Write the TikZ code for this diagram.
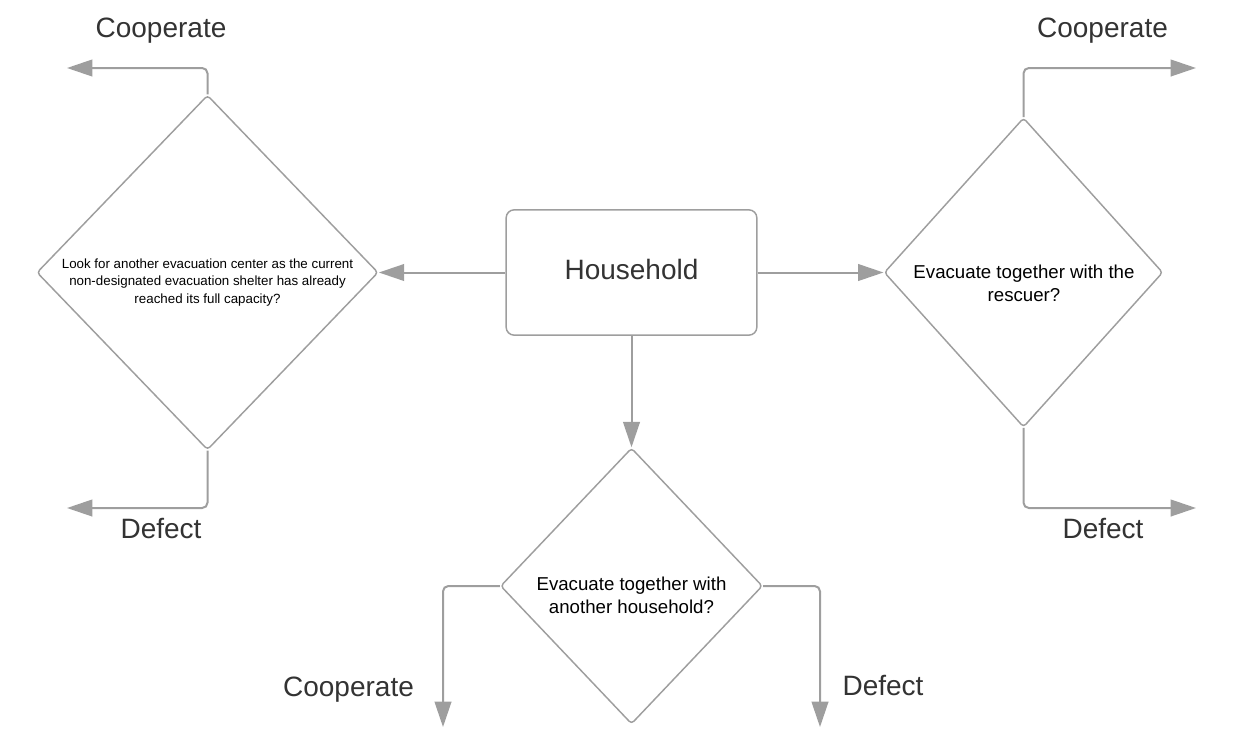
\documentclass[tikz,border=0pt]{standalone}
\usepackage{fontspec}
\setmainfont{Liberation Sans}
\usetikzlibrary{shapes.geometric,arrows.meta,positioning}
\definecolor{linegray}{HTML}{9E9E9E}
\definecolor{textgray}{HTML}{333333}

\begin{document}
\begin{tikzpicture}[x=0.75pt,y=-0.75pt,
    every node/.style={text=textgray},
    flow/.style={draw=linegray, line width=1.5pt, rounded corners=4pt,
      -{Triangle[length=19pt,width=12.5pt,fill=linegray]}},
    decision/.style={diamond, draw=linegray, line width=1.1pt,
      rounded corners=2.5pt, inner sep=0pt},
    actor/.style={rectangle, draw=linegray, line width=1.1pt, rounded corners=6pt,
      minimum width=188pt, minimum height=94pt, text depth=5pt,
      font=\fontsize{21}{25}\selectfont},
    choice/.style={anchor=base, font=\fontsize{21}{25}\selectfont},
    qtext/.style={align=center, inner sep=0pt, text=black, font=\fontsize{14}{17}\selectfont},
    qsmall/.style={align=center, inner sep=0pt, text=black, font=\fontsize{10}{13.1}\selectfont}]
  \useasboundingbox (0,0) rectangle (1242,740);

  % Household in the middle
  \node[actor] (hh) at (631.5,272.5) {Household};

  % Three decisions
  \node[decision, minimum width=256pt, minimum height=266pt] (qleft) at (207.5,272.5) {};
  \node[qsmall] (qlefttext) at (207.5,282.5)
    {Look for another evacuation center as the current\\
     non-designated evacuation shelter has already\\
     reached its full capacity?};

  \node[decision, minimum width=209pt, minimum height=232pt] (qright) at (1023.5,272.5) {};
  \node[qtext] (qrighttext) at (1024,283) {Evacuate together with the\\rescuer?};

  \node[decision, minimum width=196.5pt, minimum height=207pt] (qbot) at (631.5,586) {};
  \node[qtext] (qbottext) at (631.5,595) {Evacuate together with\\another household?};

  % Household to decisions
  \draw[flow] (hh.west) -- (qleft.east);
  \draw[flow] (hh.east) -- (qright.west);
  \draw[flow] (hh.south) -- (qbot.north);

  % Ends of the outcome arrows
  \coordinate (lcoop) at (67,68);
  \coordinate (ldef) at (67,508);
  \coordinate (rcoop) at (1196,68);
  \coordinate (rdef) at (1196,508);
  \coordinate (bcoop) at (443,727);
  \coordinate (bdef) at (820,727);

  % Outcomes
  \draw[flow] (qleft.north) |- (lcoop);
  \draw[flow] (qleft.south) |- (ldef);
  \draw[flow] (qright.north) |- (rcoop);
  \draw[flow] (qright.south) |- (rdef);
  \draw[flow] (qbot.west) -| (bcoop);
  \draw[flow] (qbot.east) -| (bdef);

  \node[choice] (lcooptext) at (161,37) {Cooperate};
  \node[choice] (ldeftext) at (161,538) {Defect};
  \node[choice] (rcooptext) at (1102.5,37) {Cooperate};
  \node[choice] (rdeftext) at (1103,538) {Defect};
  \node[choice] (bcooptext) at (348.5,696) {Cooperate};
  \node[choice] (bdeftext) at (883,695) {Defect};
\end{tikzpicture}
\end{document}
